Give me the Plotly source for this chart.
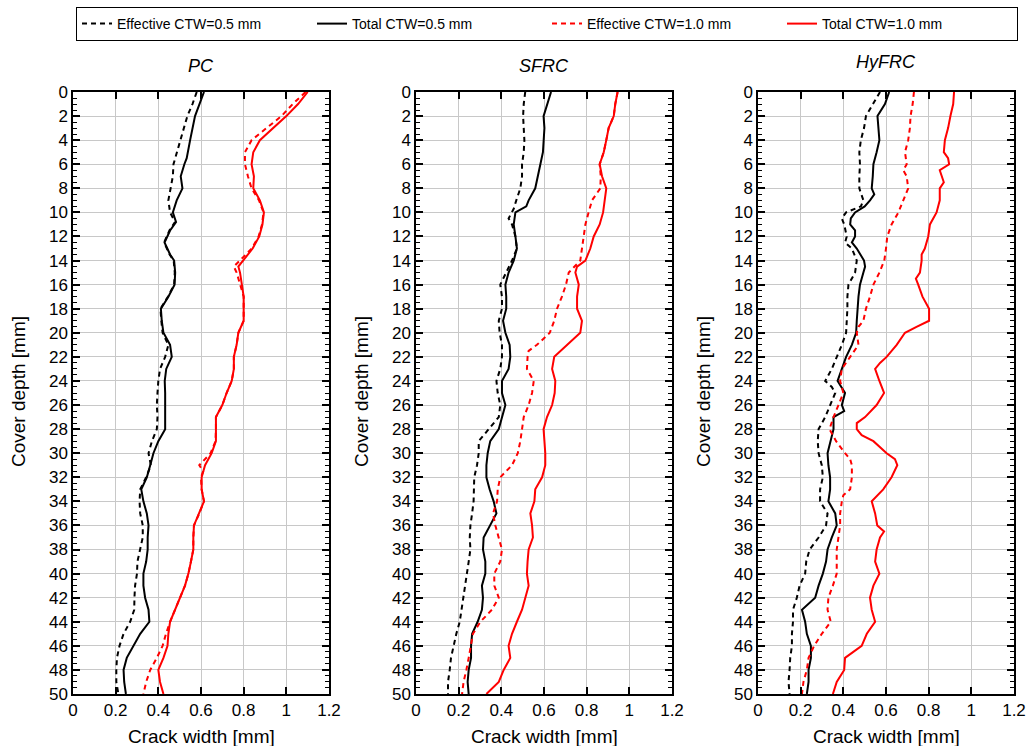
import plotly.graph_objects as go

# ---------------- data (depth [mm], crack width [mm]) ----------------
panels = ["PC", "SFRC", "HyFRC"]

# PC
pc_eff05_d = [0,1,2,3,4,5,6,7,8,9,10,10.8,11.5,12.5,13.5,14,15,16,17,18,19,20,21,22,23,24,25,26,27,28,29,30,31,32,33,34,35,36,37,38,39,40,41,42,43,44,45,46,47,48,49,50]
pc_eff05_w = [0.58,0.56,0.536,0.52,0.505,0.486,0.471,0.468,0.458,0.447,0.455,0.478,0.452,0.427,0.453,0.472,0.477,0.474,0.445,0.41,0.414,0.42,0.447,0.432,0.408,0.40,0.396,0.393,0.396,0.393,0.37,0.354,0.365,0.343,0.315,0.312,0.315,0.327,0.327,0.315,0.302,0.30,0.291,0.288,0.287,0.268,0.237,0.218,0.206,0.203,0.203,0.213]
pc_tot05_d = [0,2,4,5.5,6,7,8,9,10,10.8,11.5,12.5,13.5,14,15,16,17,18,19,20,21,22,23,24,25,26,27,28,29,30,31,32,33,34,35,36,37,38,39,40,41,42,43,44,45,46,47,48,49,50]
pc_tot05_w = [0.614,0.572,0.549,0.533,0.522,0.505,0.513,0.486,0.468,0.483,0.455,0.429,0.455,0.474,0.479,0.476,0.447,0.412,0.416,0.424,0.455,0.463,0.437,0.43,0.432,0.432,0.435,0.432,0.40,0.377,0.362,0.346,0.32,0.33,0.346,0.354,0.35,0.35,0.343,0.33,0.33,0.338,0.354,0.358,0.315,0.284,0.252,0.237,0.24,0.248]
pc_eff10_d = [0,1,2,3,4,5,6,7,8,9,10,11,12,13,14,14.5,15,16,17,18,19,20,21,22,23,24,25,26,27,28,29,30,30.5,31,31.5,32,33,34,35,36,37,38,39,40,41,42,43,44,45,46,47,48,49,50]
pc_eff10_w = [1.09,1.03,0.977,0.907,0.837,0.806,0.806,0.82,0.837,0.872,0.893,0.886,0.87,0.838,0.784,0.754,0.767,0.784,0.80,0.80,0.80,0.775,0.767,0.754,0.754,0.744,0.72,0.70,0.67,0.67,0.668,0.645,0.62,0.592,0.61,0.60,0.603,0.614,0.592,0.567,0.564,0.564,0.553,0.541,0.525,0.502,0.479,0.455,0.436,0.42,0.393,0.362,0.343,0.33]
pc_tot10_d = [0,1,2,3,4,5,6,7,8,9,10,11,12,13,14,14.5,15,16,17,18,19,20,21,22,23,24,25,26,27,28,29,30,31,32,33,34,35,36,37,38,39,40,41,42,43,44,45,46,47,48,49,50]
pc_tot10_w = [1.10,1.055,1.0,0.938,0.876,0.845,0.837,0.848,0.845,0.876,0.895,0.888,0.873,0.842,0.80,0.775,0.783,0.79,0.80,0.80,0.80,0.775,0.767,0.754,0.754,0.744,0.72,0.70,0.67,0.67,0.67,0.65,0.619,0.603,0.603,0.614,0.592,0.567,0.564,0.564,0.553,0.541,0.525,0.502,0.479,0.455,0.447,0.443,0.424,0.40,0.408,0.424]

# SFRC
sf_eff05_d = [0,1,2,3,4,5,6,7,8,9,9.7,10.5,11,12,13,14,15,16,17,18,19,20,21,22,23,24,25,26,27,28,29,30,31,32,33,34,35,36,37,38,39,40,41,42,43,44,45,46,47,48,49,50]
sf_eff05_w = [0.512,0.505,0.502,0.505,0.508,0.505,0.497,0.497,0.489,0.47,0.458,0.434,0.45,0.466,0.473,0.45,0.423,0.395,0.403,0.403,0.388,0.392,0.403,0.403,0.395,0.377,0.383,0.395,0.388,0.34,0.294,0.294,0.286,0.273,0.27,0.27,0.263,0.255,0.252,0.255,0.247,0.239,0.231,0.223,0.216,0.205,0.189,0.177,0.164,0.158,0.15,0.15]
sf_tot05_d = [0,1,2,3,4,5,6,7,8,9,9.5,10,11,12,13,14,15,16,17,18,19,20,21,22,23,24,25,26,27,28,29,30,31,32,33,34,35,36,37,38,39,40,41,42,43,44,45,46,47,48,49,50]
sf_tot05_w = [0.633,0.614,0.598,0.602,0.598,0.595,0.583,0.572,0.559,0.528,0.517,0.466,0.458,0.466,0.473,0.458,0.434,0.419,0.423,0.423,0.408,0.419,0.439,0.442,0.434,0.403,0.403,0.419,0.403,0.388,0.348,0.336,0.33,0.33,0.345,0.364,0.377,0.348,0.317,0.314,0.325,0.325,0.309,0.314,0.309,0.289,0.263,0.258,0.258,0.247,0.242,0.247]
sf_eff10_d = [0,1,2,3,4,5,6,7,8,9,10,11,12,13,14,15,16,17,18,19,20,21,21.5,22,23,24,25,26,27,28,29,30,31,32,33,34,35,36,37,38,39,40,41,42,43,44,45,46,47,48,49,50]
sf_eff10_w = [0.945,0.934,0.927,0.903,0.892,0.88,0.861,0.866,0.864,0.825,0.809,0.794,0.786,0.778,0.77,0.716,0.703,0.684,0.661,0.648,0.627,0.567,0.528,0.523,0.52,0.552,0.544,0.528,0.505,0.497,0.489,0.477,0.45,0.395,0.383,0.38,0.361,0.372,0.388,0.403,0.395,0.367,0.367,0.388,0.356,0.302,0.267,0.258,0.247,0.236,0.223,0.216]
sf_tot10_d = [0,1,2,3,4,5,6,7,8,9,10,11,12,13,14,14.5,15,16,17,18,19,20,21,22,23,24,25,26,27,28,29,30,31,32,33,34,35,36,37,38,39,40,41,42,43,44,45,46,47,48,49,50]
sf_tot10_w = [0.945,0.934,0.927,0.903,0.892,0.88,0.861,0.872,0.892,0.883,0.877,0.861,0.833,0.817,0.794,0.755,0.747,0.763,0.755,0.755,0.778,0.77,0.708,0.648,0.638,0.653,0.65,0.638,0.614,0.598,0.602,0.606,0.606,0.591,0.559,0.555,0.536,0.544,0.548,0.528,0.523,0.52,0.528,0.513,0.497,0.473,0.45,0.434,0.442,0.411,0.388,0.33]

# HyFRC
hy_eff05_d = [0,1,2,3,4,5,6,7,8,9,9.5,10,10.5,11,12,12.5,13,14,15,16,17,18,19,20,21,22,23,24,24.5,25,26,27,28,29,30,31,32,33,34,35,36,37,38,39,40,41,42,43,44,45,46,47,48,49,50]
hy_eff05_w = [0.572,0.541,0.506,0.497,0.482,0.475,0.478,0.475,0.475,0.494,0.482,0.413,0.393,0.404,0.416,0.408,0.44,0.463,0.455,0.424,0.419,0.419,0.416,0.413,0.393,0.369,0.346,0.315,0.346,0.362,0.338,0.315,0.284,0.28,0.284,0.299,0.304,0.291,0.291,0.326,0.319,0.284,0.242,0.226,0.221,0.195,0.182,0.164,0.164,0.159,0.159,0.151,0.148,0.143,0.148]
hy_tot05_d = [0,1,2,3,4,5,6,7,8,8.5,9,9.5,10,10.5,11,11.5,12,12.5,13,14,14.5,15,16,17,18,19,20,21,22,23,24,25,26,26.5,27,28,29,30,31,32,33,34,35,36,37,38,39,40,41,42,43,44,45,46,47,48,49,50]
hy_tot05_w = [0.615,0.595,0.56,0.564,0.569,0.556,0.541,0.538,0.533,0.545,0.525,0.50,0.455,0.435,0.432,0.455,0.455,0.44,0.463,0.497,0.502,0.494,0.478,0.471,0.466,0.463,0.46,0.44,0.413,0.393,0.373,0.408,0.393,0.404,0.354,0.354,0.341,0.326,0.33,0.338,0.338,0.33,0.362,0.369,0.346,0.326,0.319,0.304,0.284,0.268,0.206,0.221,0.229,0.248,0.248,0.237,0.237,0.229]
hy_eff10_d = [0,1,2,3,4,5,6,6.5,7,8,9,10,11,12,13,14,15,16,17,18,19,19.5,20,21,22,23,24,25,26,27,28,29,30,30.5,31,32,33,33.5,34,35,36,37,38,39,40,41,42,43,44,45,46,47,48,49,50]
hy_eff10_w = [0.731,0.725,0.715,0.712,0.704,0.689,0.697,0.681,0.697,0.704,0.681,0.658,0.626,0.606,0.60,0.592,0.569,0.541,0.525,0.506,0.494,0.471,0.463,0.471,0.432,0.393,0.385,0.40,0.377,0.354,0.335,0.366,0.408,0.432,0.44,0.44,0.432,0.40,0.393,0.385,0.385,0.377,0.369,0.369,0.369,0.351,0.33,0.326,0.341,0.299,0.263,0.237,0.229,0.213,0.206]
hy_tot10_d = [0,1,2,3,4,5,5.5,6,6.5,7,7.5,8,9,10,11,12,13,13.5,14,15,15.5,16,17,18,19,19.5,20,21,22,22.5,23,24,25,26,27,27.5,28,28.5,29,30,30.5,31,32,33,34,35,36,36.5,37,38,39,40,41,42,43,44,45,46,47,48,49,50]
hy_tot10_w = [0.919,0.915,0.902,0.891,0.876,0.871,0.891,0.896,0.852,0.86,0.871,0.852,0.852,0.837,0.806,0.798,0.782,0.767,0.767,0.759,0.74,0.751,0.771,0.802,0.802,0.743,0.689,0.65,0.603,0.572,0.549,0.569,0.591,0.556,0.502,0.463,0.463,0.486,0.541,0.603,0.642,0.653,0.626,0.587,0.533,0.549,0.559,0.591,0.572,0.556,0.549,0.569,0.541,0.525,0.533,0.549,0.51,0.486,0.408,0.404,0.369,0.351]

series_names = ["Effective CTW=0.5 mm", "Total CTW=0.5 mm", "Effective CTW=1.0 mm", "Total CTW=1.0 mm"]
x_ticks = [0, 0.2, 0.4, 0.6, 0.8, 1.0, 1.2]
x_ticktext = ["0", "0.2", "0.4", "0.6", "0.8", "1", "1.2"]
y_ticks = list(range(0, 51, 2))

data = {
    "PC": [(pc_eff05_w, pc_eff05_d), (pc_tot05_w, pc_tot05_d), (pc_eff10_w, pc_eff10_d), (pc_tot10_w, pc_tot10_d)],
    "SFRC": [(sf_eff05_w, sf_eff05_d), (sf_tot05_w, sf_tot05_d), (sf_eff10_w, sf_eff10_d), (sf_tot10_w, sf_tot10_d)],
    "HyFRC": [(hy_eff05_w, hy_eff05_d), (hy_tot05_w, hy_tot05_d), (hy_eff10_w, hy_eff10_d), (hy_tot10_w, hy_tot10_d)],
}

styles = [("black", "5px,4px"), ("black", "solid"), ("red", "5px,4px"), ("red", "solid")]

# ---------------- layout geometry ----------------
W, H = 1030, 746
x_dom_px = [(73, 329), (416, 672), (758, 1014)]
y_top_px, y_bot_px = 92, 694
FONT = "Helvetica, Arial, Liberation Sans, sans-serif"

fig = go.Figure()

for i, p in enumerate(panels):
    xa = "x" if i == 0 else f"x{i+1}"
    ya = "y" if i == 0 else f"y{i+1}"
    for j, (w, d) in enumerate(data[p]):
        col, dash = styles[j]
        fig.add_trace(go.Scatter(
            x=w, y=d, mode="lines", xaxis=xa, yaxis=ya,
            name=series_names[j], showlegend=(i == 0),
            line=dict(color=col, width=2, dash=dash),
        ))

axis_common = dict(
    showline=True, linecolor="black", linewidth=1.5, mirror="allticks",
    ticks="inside", ticklen=7, tickwidth=1.5, tickcolor="black",
    showgrid=True, gridcolor="#c8c8c8", gridwidth=1,
    zeroline=False, tickfont=dict(family=FONT, size=17, color="black"),
)

layout = dict(
    width=W, height=H, margin=dict(l=0, r=0, t=0, b=0, autoexpand=False),
    plot_bgcolor="white", paper_bgcolor="white",
    font=dict(family=FONT, color="black"),
    legend=dict(
        orientation="h", x=76 / W, y=1 - 7 / H, xanchor="left", yanchor="top",
        bordercolor="black", borderwidth=1, font=dict(size=14, family=FONT),
        entrywidth=190, entrywidthmode="pixels", bgcolor="white",
    ),
)

annotations = []
for i, p in enumerate(panels):
    xk = "xaxis" if i == 0 else f"xaxis{i+1}"
    yk = "yaxis" if i == 0 else f"yaxis{i+1}"
    x0, x1 = x_dom_px[i]
    ya = "y" if i == 0 else f"y{i+1}"
    xa = "x" if i == 0 else f"x{i+1}"
    layout[xk] = dict(
        domain=[x0 / W, x1 / W], anchor=ya, range=[0, 1.2],
        tickvals=x_ticks, ticktext=x_ticktext,
        **axis_common,
    )
    layout[yk] = dict(
        domain=[1 - y_bot_px / H, 1 - y_top_px / H], anchor=xa, range=[50, 0],
        tickvals=y_ticks,
        minor=dict(dtick=0.5, ticks="inside", ticklen=4, tickcolor="black", tickwidth=1, showgrid=False),
        **axis_common,
    )
    cx = (x0 + x1) / 2
    ty = 62 if p == "HyFRC" else 66
    annotations.append(dict(text=f"<i>{p}</i>", x=cx / W, y=1 - ty / H, xref="paper", yref="paper",
                            showarrow=False, font=dict(size=18, family=FONT), xanchor="center", yanchor="middle"))
    annotations.append(dict(text="Crack width [mm]", x=cx / W, y=1 - 736 / H, xref="paper", yref="paper",
                            showarrow=False, font=dict(size=19, family=FONT), xanchor="center", yanchor="middle"))
    annotations.append(dict(text="Cover depth [mm]", x=(x0 - 55) / W, y=1 - 392 / H, xref="paper", yref="paper",
                            showarrow=False, font=dict(size=19, family=FONT), textangle=-90,
                            xanchor="center", yanchor="middle"))
layout["annotations"] = annotations

fig.update_layout(**layout)
fig.write_html("out.html")
